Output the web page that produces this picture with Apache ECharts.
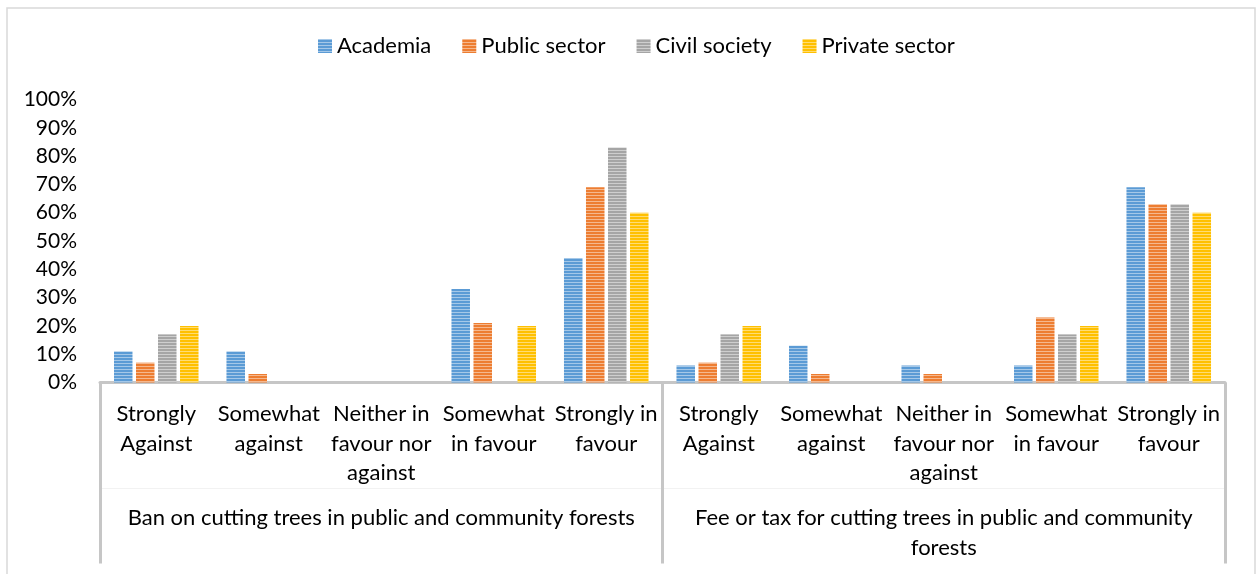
<!DOCTYPE html>
<html>
<head>
<meta charset="utf-8">
<script src="https://cdn.jsdelivr.net/npm/echarts@6/dist/echarts.min.js"></script>
<style>
  html, body { margin: 0; padding: 0; background: #fff; }
  #chart { width: 1259px; height: 574px; }
</style>
</head>
<body>
<div id="chart"></div>
<script>
// Response options (first-level category labels)
const responses = ['Strongly\nAgainst', 'Somewhat\nagainst', 'Neither in\nfavour nor\nagainst', 'Somewhat\nin favour', 'Strongly in\nfavour'];
// Policy questions (second-level category labels)
const questions = ['Ban on cutting trees in public and community forests', 'Fee or tax for cutting trees in public and community\nforests'];
const seriesNames = ['Academia', 'Public sector', 'Civil society', 'Private sector'];
// Shares of respondents (%) per response, first question then second question
const academia      = [11, 11, 0, 33, 44,   6, 13, 6,  6, 69];
const publicSector  = [ 7,  3, 0, 21, 69,   7,  3, 3, 23, 63];
const civilSociety  = [17,  0, 0,  0, 83,  17,  0, 0, 17, 63];
const privateSector = [20,  0, 0, 20, 60,  20,  0, 0, 20, 60];
const yTicks = [0, 10, 20, 30, 40, 50, 60, 70, 80, 90, 100];

const baseColors = ['#5B9BD5', '#ED7D31', '#A5A5A5', '#FFC000'];
const FONT = 'Lato';

// Horizontal-stripe fill: one light row followed by two solid rows
function mix(hex, t) {
  const n = parseInt(hex.slice(1), 16);
  const r = (n >> 16) & 255, g = (n >> 8) & 255, b = n & 255;
  const f = c => Math.round(c + (255 - c) * t);
  return 'rgb(' + f(r) + ',' + f(g) + ',' + f(b) + ')';
}
function stripes(hex) {
  const c = document.createElement('canvas');
  c.width = 4; c.height = 3;
  const ctx = c.getContext('2d');
  ctx.fillStyle = hex; ctx.fillRect(0, 0, 4, 3);
  ctx.fillStyle = mix(hex, 0.45); ctx.fillRect(0, 0, 4, 1);
  return { image: c, repeat: 'repeat' };
}

const xLabels = questions.flatMap(() => responses);
const values = [academia, publicSector, civilSociety, privateSector];

const chart = echarts.init(document.getElementById('chart'), null, { renderer: 'canvas' });
chart.setOption({
  animation: false,
  backgroundColor: '#fff',
  textStyle: { fontFamily: FONT },
  graphic: [{
    type: 'rect', silent: true, z: -1,
    shape: { x: 7, y: 8, width: 1248, height: 600 },
    style: { fill: 'none', stroke: '#d9d9d9', lineWidth: 1.5 }
  }],
  legend: {
    left: 313, top: 30,
    itemWidth: 14, itemHeight: 14, itemGap: 31,
    icon: 'rect',
    textStyle: { fontFamily: FONT, fontSize: 22, color: '#000' },
    data: seriesNames
  },
  grid: { left: 100, right: 34, top: 99.5, bottom: 191.5, containLabel: false },
  xAxis: [
    {
      type: 'category', data: xLabels, position: 'bottom',
      axisLine: { show: true, lineStyle: { color: '#c6c6c6', width: 3 } },
      axisTick: { show: false },
      axisLabel: { interval: 0, margin: 17, fontFamily: FONT, fontSize: 22, lineHeight: 29.5, color: '#000' }
    },
    {
      type: 'category', data: questions, position: 'bottom',
      axisLine: { show: false },
      axisTick: { show: true, length: 181, lineStyle: { color: '#c6c6c6', width: 3 } },
      axisLabel: { interval: 0, margin: 121, fontFamily: FONT, fontSize: 22, lineHeight: 29.5, color: '#000', align: 'center' }
    },
    {
      type: 'category', data: questions, position: 'bottom', offset: 105.5,
      axisLine: { show: true, lineStyle: { color: '#f2f2f2', width: 1 } },
      axisTick: { show: false },
      axisLabel: { show: false }
    }
  ],
  yAxis: {
    type: 'value', min: yTicks[0], max: yTicks[yTicks.length - 1], interval: yTicks[1] - yTicks[0],
    axisLine: { show: false }, axisTick: { show: false }, splitLine: { show: false },
    axisLabel: { margin: 23, fontFamily: FONT, fontSize: 21, color: '#000', formatter: '{value}%' }
  },
  series: seriesNames.map((name, i) => ({
    name, type: 'bar', xAxisIndex: 0, data: values[i],
    barWidth: 18.5, barGap: '19%',
    itemStyle: { color: stripes(baseColors[i]) }
  }))
});
</script>
</body>
</html>
